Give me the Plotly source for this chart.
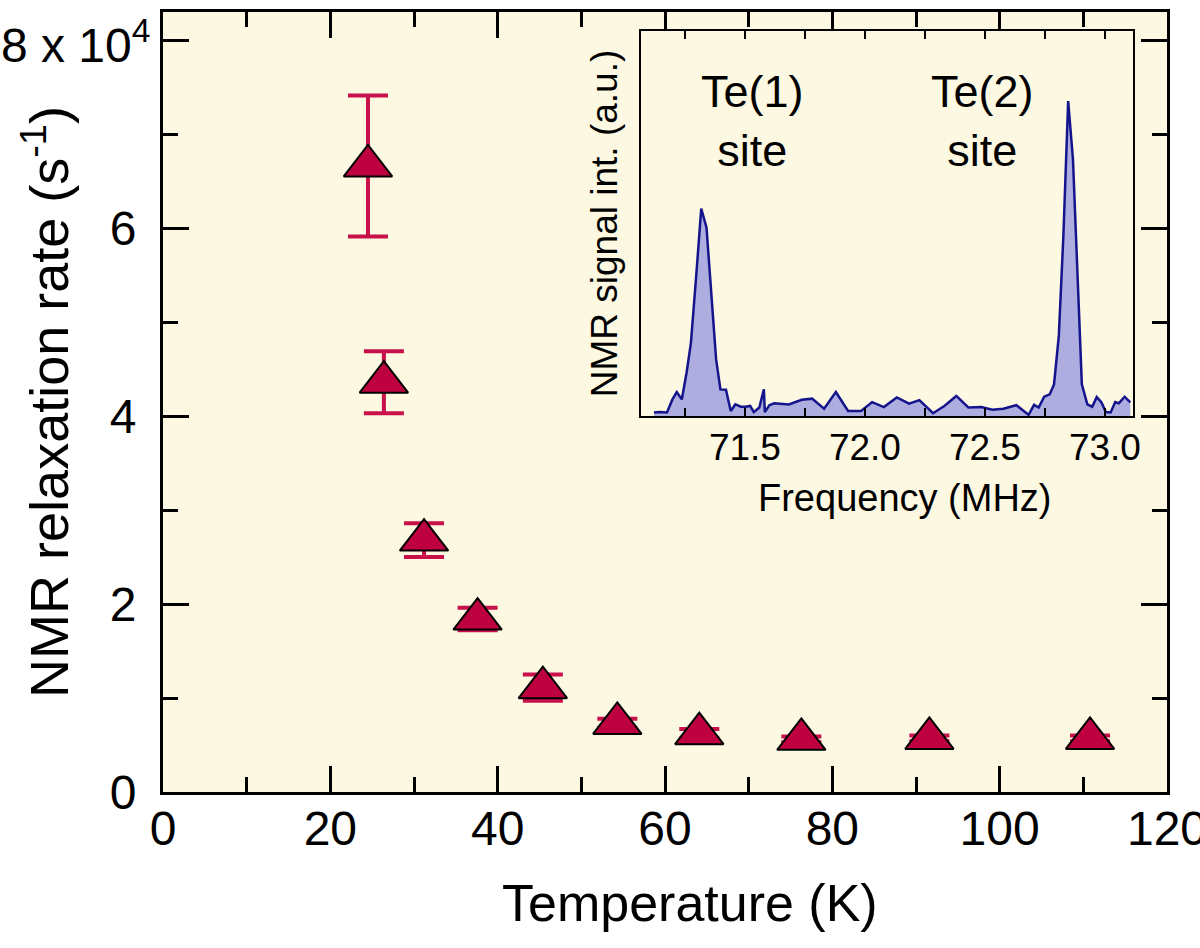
import plotly.graph_objects as go

# Main data: NMR relaxation rate vs temperature
temperature_K = [24.5, 26.4, 31.2, 37.6, 45.4, 54.3, 64.1, 76.3, 91.6, 110.8]
relax_rate = [66600, 43600, 26800, 18400, 11100, 7300, 6200, 5600, 5700, 5700]
relax_err = [7500, 3300, 1800, 1200, 1400, 500, 500, 300, 300, 300]

# Inset data: NMR spectrum
freq_MHz = [71.121, 71.144, 71.175, 71.198, 71.216, 71.237, 71.257, 71.275, 71.298, 71.318,
            71.340, 71.360, 71.380, 71.398, 71.421, 71.441, 71.460, 71.483, 71.503, 71.522,
            71.537, 71.560, 71.579, 71.583, 71.602, 71.622, 71.653, 71.683, 71.737, 71.780,
            71.830, 71.879, 71.930, 71.984, 72.030, 72.079, 72.133, 72.184, 72.227, 72.284,
            72.331, 72.381, 72.431, 72.485, 72.531, 72.577, 72.631, 72.682, 72.705, 72.724,
            72.747, 72.770, 72.788, 72.808, 72.827, 72.847, 72.867, 72.885, 72.904, 72.927,
            72.947, 72.966, 72.986, 73.004, 73.024, 73.043, 73.058, 73.082, 73.106]
signal = [0.009, 0.010, 0.009, 0.043, 0.062, 0.043, 0.113, 0.190, 0.372, 0.539,
          0.489, 0.320, 0.147, 0.069, 0.068, 0.013, 0.030, 0.024, 0.024, 0.026,
          0.010, 0.022, 0.069, 0.010, 0.028, 0.033, 0.032, 0.030, 0.042, 0.045,
          0.019, 0.062, 0.013, 0.013, 0.036, 0.023, 0.048, 0.032, 0.041, 0.007,
          0.026, 0.052, 0.022, 0.023, 0.016, 0.019, 0.028, 0.003, 0.029, 0.022,
          0.050, 0.056, 0.082, 0.208, 0.468, 0.818, 0.667, 0.381, 0.082, 0.030,
          0.024, 0.049, 0.035, 0.010, 0.009, 0.036, 0.033, 0.050, 0.035]

x_tickvals = [0, 20, 40, 60, 80, 100, 120]
y_tickvals = [0, 20000, 40000, 60000, 80000]
y_ticktext = ["0", "2", "4", "6", ""]
y_top_label = "8 x 10<sup>4</sup>"
inset_tickvals = [71.5, 72.0, 72.5, 73.0]
site_labels = ["Te(1)<br>site", "Te(2)<br>site"]
site_x = [71.53, 72.49]

FONT = "Liberation Sans, Arial, Helvetica, sans-serif"
RED = "#BE0040"
L, R, T, B = 163, 33, 12, 156
W, H = 1200, 948
PW, PH = W - L - R, H - T - B

fig = go.Figure()

fig.add_trace(go.Scatter(
    x=temperature_K, y=relax_rate, mode="markers",
    error_y=dict(type="data", array=relax_err, visible=True,
                 color="#C8104A", thickness=4, width=20),
    marker=dict(symbol="triangle-up", size=42, color=RED,
                line=dict(color="black", width=2)),
    xaxis="x", yaxis="y", showlegend=False,
))

fig.add_trace(go.Scatter(
    x=freq_MHz, y=signal, mode="lines", fill="tozeroy",
    fillcolor="rgba(160,160,222,0.85)",
    line=dict(color="#14148C", width=2.5),
    xaxis="x2", yaxis="y2", showlegend=False,
))

for lab, xv in zip(site_labels, site_x):
    fig.add_annotation(x=xv, y=0.765, xref="x2", yref="y2", text=lab,
                       showarrow=False, font=dict(family=FONT, size=45, color="black"),
                       align="center")

# top y tick label with exponent, left-aligned at figure edge
fig.add_annotation(x=-L / PW, y=y_tickvals[-1], xref="paper", yref="y", text=y_top_label,
                   xanchor="left", yanchor="middle", showarrow=False,
                   font=dict(family=FONT, size=48, color="black"), yshift=-2, xshift=-1)

# main x-axis title
fig.add_annotation(x=0.525, y=-111 / PH, xref="paper", yref="paper", text="Temperature (K)",
                   xanchor="center", yanchor="middle", showarrow=False,
                   font=dict(family=FONT, size=52, color="black"))

# inset x-axis title
fig.add_annotation(x=0.537, y=-0.213, xref="x2 domain", yref="y2 domain", text="Frequency (MHz)",
                   xanchor="center", yanchor="middle", showarrow=False,
                   font=dict(family=FONT, size=38, color="black"))

fig.update_layout(
    width=W, height=H,
    margin=dict(l=L, r=R, t=T, b=B, autoexpand=False),
    paper_bgcolor="white",
    plot_bgcolor="#FDF8E1",
    font=dict(family=FONT, color="black"),
    xaxis=dict(
        range=[0, 120], tickvals=x_tickvals, automargin=False, ticklabeloverflow="allow",
        ticks="inside", ticklen=26, tickwidth=3, tickcolor="black",
        minor=dict(dtick=10, tick0=0, ticks="inside", ticklen=15, tickwidth=3, tickcolor="black"),
        showline=True, linewidth=3, linecolor="black", mirror="ticks",
        showgrid=False, zeroline=False,
        tickfont=dict(size=48), ticklabelstandoff=-8,
    ),
    yaxis=dict(
        range=[0, 82980], tickvals=y_tickvals, ticktext=y_ticktext, automargin=False,
        ticklabeloverflow="allow",
        ticks="inside", ticklen=26, tickwidth=3, tickcolor="black",
        minor=dict(dtick=10000, tick0=0, ticks="inside", ticklen=15, tickwidth=3, tickcolor="black"),
        showline=True, linewidth=3, linecolor="black", mirror="ticks",
        showgrid=False, zeroline=False,
        tickfont=dict(size=48), ticklabelstandoff=14,
        title=dict(text="NMR relaxation rate (s<sup>-1</sup>)", font=dict(size=54), standoff=24),
    ),
    xaxis2=dict(
        domain=[0.4761, 0.9661], anchor="y2", automargin=False,
        range=[71.067, 73.117], tickvals=inset_tickvals, tickformat=".1f",
        ticks="inside", ticklen=8, tickwidth=2, tickcolor="black",
        minor=dict(dtick=0.25, tick0=71.0, ticks="inside", ticklen=8, tickwidth=2, tickcolor="black"),
        showline=True, linewidth=2, linecolor="black", mirror="ticks",
        showgrid=False, zeroline=False,
        tickfont=dict(size=37), ticklabelstandoff=-2,
    ),
    yaxis2=dict(
        domain=[0.4821, 0.9756], anchor="x2", automargin=False,
        range=[0, 1], showticklabels=False, ticks="",
        showline=True, linewidth=2, linecolor="black", mirror=True,
        showgrid=False, zeroline=False,
        title=dict(text="NMR signal int. (a.u.)", font=dict(size=37), standoff=10),
    ),
)

# white inset background
fig.add_shape(type="rect", xref="x2 domain", yref="y2 domain", x0=0, x1=1, y0=0, y1=1,
              fillcolor="white", line=dict(width=0), layer="below")

fig.write_html("out.html", config={"displayModeBar": False},
               post_script="document.body.style.margin='0';document.body.style.overflow='hidden';")
